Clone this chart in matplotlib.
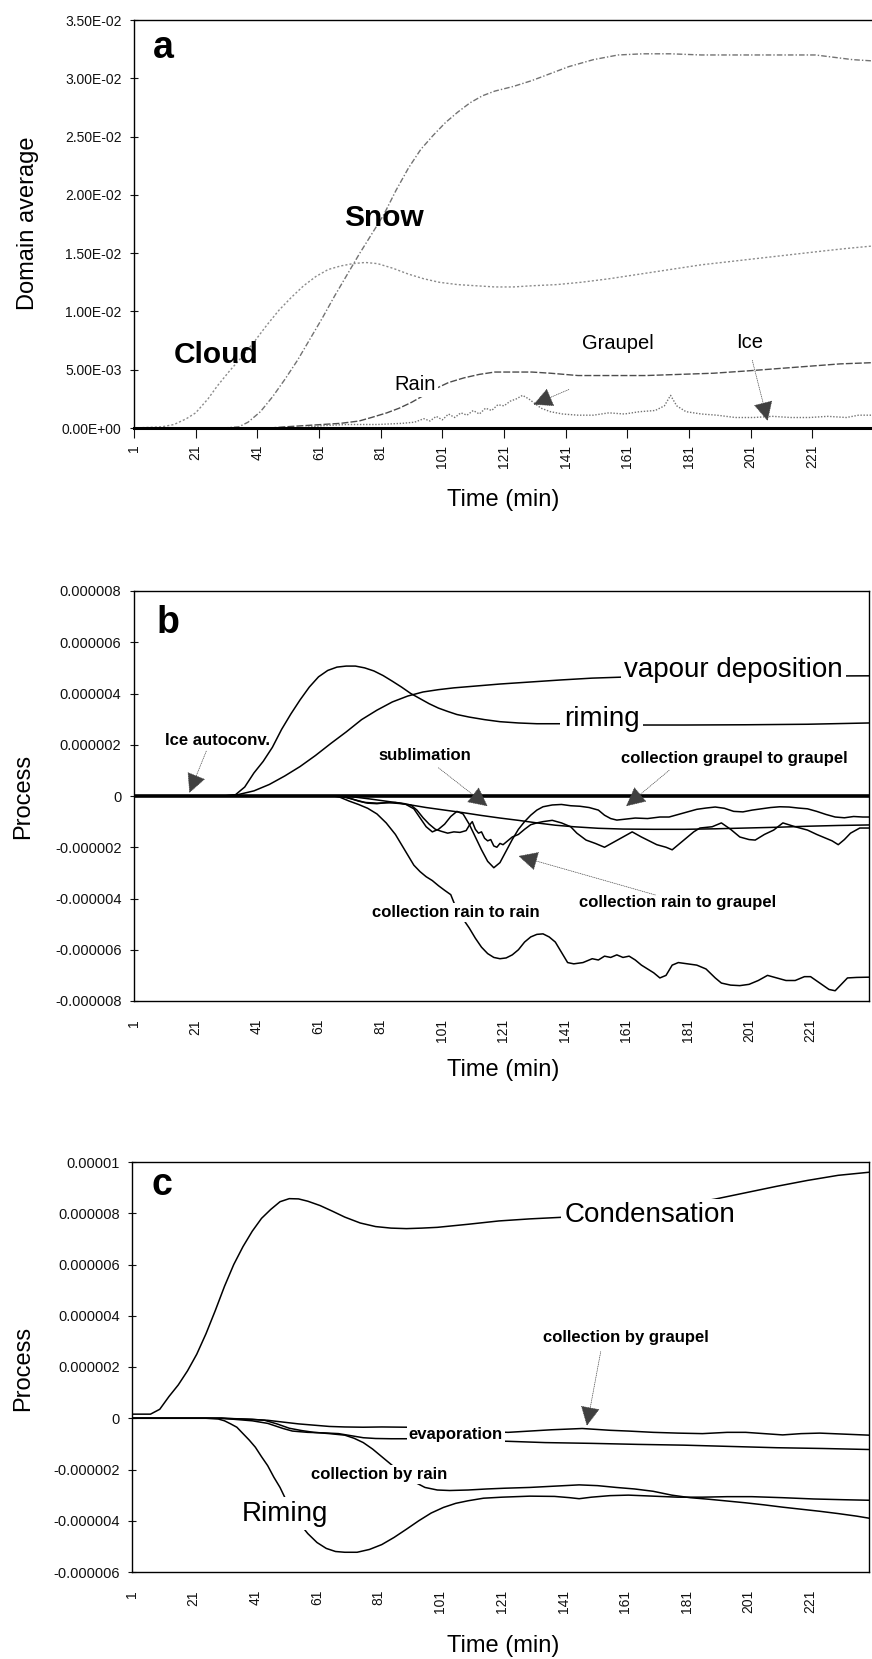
import matplotlib
matplotlib.use("Agg")
import matplotlib.pyplot as plt
import numpy as np

plt.rcParams['font.family'] = ['Liberation Sans', 'DejaVu Sans']

# ---------------- panel a: domain averages ----------------
cloud_t = [1, 10, 14, 18, 21, 25, 28, 32, 36, 40, 44, 48, 52, 56, 60, 64, 68, 72, 76, 80, 85, 90,
           95, 100, 106, 112, 118, 124, 130, 138, 146, 155, 165, 175, 185, 195, 205, 215, 225, 232, 240]
cloud_v = [0, 0.0001, 0.0003, 0.0008, 0.0013, 0.0025, 0.0036, 0.0049, 0.0061, 0.0074, 0.0088, 0.0101,
           0.0112, 0.0122, 0.0130, 0.0136, 0.0139, 0.0141, 0.0142, 0.0141, 0.0137, 0.0132, 0.0128,
           0.0125, 0.0123, 0.0122, 0.0121, 0.0121, 0.0122, 0.0123, 0.0125, 0.0128, 0.0132, 0.0136,
           0.0140, 0.0143, 0.0146, 0.0149, 0.0152, 0.0154, 0.0156]

snow_t = [1, 30, 35, 38, 42, 46, 50, 54, 58, 62, 66, 70, 74, 78, 82, 86, 90, 94, 98, 102, 106, 110,
          114, 118, 124, 130, 136, 142, 150, 158, 166, 175, 185, 195, 205, 215, 222, 228, 234, 240]
snow_v = [0, 0, 0.0001, 0.0005, 0.0014, 0.0027, 0.0042, 0.0058, 0.0076, 0.0094, 0.0113, 0.0131,
          0.0149, 0.0166, 0.0183, 0.0204, 0.0223, 0.0239, 0.0251, 0.0262, 0.0271, 0.0279, 0.0285,
          0.0289, 0.0293, 0.0298, 0.0304, 0.0310, 0.0316, 0.0320, 0.0321, 0.0321, 0.0320, 0.0320,
          0.0320, 0.0320, 0.0320, 0.0318, 0.0316, 0.0315]

rain_t = [1, 45, 50, 56, 62, 68, 74, 78, 83, 87, 91, 95, 99, 103, 108, 113, 118, 124, 130, 136,
          145, 155, 167, 178, 189, 200, 210, 220, 230, 240]
rain_v = [0, 0, 0.0001, 0.0002, 0.0003, 0.0004, 0.0006, 0.0009, 0.0013, 0.0017, 0.0022, 0.0028,
          0.0034, 0.0039, 0.0043, 0.0046, 0.0048, 0.0048, 0.0048, 0.0047, 0.0045, 0.0045, 0.0045,
          0.0046, 0.0047, 0.0049, 0.0051, 0.0053, 0.0055, 0.0056]

graupel_t = [1, 55, 62, 70, 80, 88, 92, 95, 97, 99, 101, 103, 105, 107, 109, 111, 113, 115, 117,
             119, 121, 123, 125, 127, 129, 131, 133, 136, 140, 145, 150, 155, 160, 165, 170, 173,
             175, 177, 180, 185, 190, 196, 202, 208, 214, 220, 226, 232, 236, 240]
graupel_v = [0, 0, 0.0002, 0.0003, 0.0003, 0.0004, 0.0005, 0.0008, 0.0006, 0.0010, 0.0007, 0.0012,
             0.0009, 0.0013, 0.0011, 0.0015, 0.0012, 0.0017, 0.0015, 0.0020, 0.0019, 0.0023, 0.0025,
             0.0028, 0.0025, 0.0021, 0.0017, 0.0014, 0.0012, 0.0011, 0.0011, 0.0013, 0.0012, 0.0014,
             0.0015, 0.0019, 0.0028, 0.0019, 0.0014, 0.0012, 0.0011, 0.0009, 0.0009, 0.0010, 0.0009,
             0.0009, 0.0010, 0.0009, 0.0011, 0.0011]

ice_t = [1, 60, 120, 240]
ice_v = [0, 0, 0, 0]

# ---------------- panel b: ice-phase processes (x 1e-6) ----------------
rimb_t = [1, 30, 34, 37, 40, 43, 46, 49, 52, 55, 58, 61, 64, 67, 70, 73, 76, 79, 82, 85, 88, 91,
          94, 97, 100, 103, 106, 110, 115, 120, 126, 132, 140, 150, 165, 180, 200, 220, 240]
rimb_v = [0, 0, 0.05, 0.35, 0.9, 1.35, 1.9, 2.6, 3.2, 3.75, 4.25, 4.65, 4.9, 5.03, 5.07, 5.07, 5.0,
          4.88, 4.7, 4.48, 4.25, 4.0, 3.8, 3.6, 3.43, 3.3, 3.18, 3.08, 2.98, 2.9, 2.85, 2.82, 2.82,
          2.8, 2.77, 2.77, 2.78, 2.8, 2.85]

vap_t = [1, 30, 34, 40, 45, 50, 55, 60, 65, 70, 75, 80, 85, 90, 95, 100, 105, 110, 120, 130, 140,
         150, 160, 180, 200, 220, 240]
vap_v = [0, 0, 0.03, 0.2, 0.45, 0.78, 1.15, 1.58, 2.05, 2.5, 2.98, 3.35, 3.67, 3.9, 4.06, 4.15,
         4.22, 4.27, 4.37, 4.45, 4.53, 4.6, 4.64, 4.66, 4.67, 4.68, 4.69]

autoconv_t = [1, 240]
autoconv_v = [0, 0]

subl_t = [1, 68, 72, 78, 84, 90, 96, 102, 108, 114, 120, 126, 132, 138, 144, 152, 160, 170, 180,
          190, 200, 210, 220, 230, 240]
subl_v = [0, 0, -0.03, -0.12, -0.22, -0.33, -0.45, -0.55, -0.65, -0.76, -0.86, -0.95, -1.05,
          -1.14, -1.2, -1.26, -1.29, -1.3, -1.3, -1.28, -1.25, -1.22, -1.18, -1.15, -1.13]

gg_t = [1, 68, 71, 74, 77, 80, 83, 86, 89, 92, 94, 96, 98, 100, 102, 104, 106, 108, 110, 112, 114,
        116, 118, 120, 122, 124, 126, 128, 130, 132, 134, 137, 140, 143, 146, 149, 152, 154, 156,
        158, 161, 164, 168, 172, 175, 178, 181, 184, 187, 190, 193, 196, 199, 202, 205, 208, 211,
        214, 217, 220, 223, 226, 229, 232, 235, 238, 240]
gg_v = [0, 0, -0.08, -0.2, -0.28, -0.3, -0.26, -0.25, -0.3, -0.5, -0.85, -1.2, -1.4, -1.3, -1.1,
        -0.8, -0.6, -0.7, -1.1, -1.6, -2.1, -2.55, -2.8, -2.6, -2.15, -1.7, -1.3, -1.0, -0.75,
        -0.55, -0.42, -0.35, -0.33, -0.38, -0.4, -0.45, -0.55, -0.75, -0.88, -0.94, -0.9, -0.86,
        -0.88, -0.82, -0.82, -0.72, -0.62, -0.52, -0.47, -0.43, -0.48, -0.6, -0.62, -0.55, -0.5,
        -0.45, -0.42, -0.43, -0.47, -0.5, -0.6, -0.72, -0.82, -0.85, -0.8, -0.82, -0.82]

rg_t = [1, 68, 72, 76, 80, 84, 88, 91, 93, 95, 97, 99, 101, 103, 105, 107, 109, 110, 111, 112, 113,
        114, 115, 116, 117, 118, 119, 120, 121, 122, 124, 126, 128, 130, 132, 134, 137, 140, 143,
        145, 148, 151, 154, 157, 160, 163, 166, 168, 171, 174, 176, 178, 181, 183, 185, 189, 192,
        195, 198, 201, 203, 206, 209, 212, 216, 220, 223, 225, 228, 230, 232, 234, 237, 240]
rg_v = [0, 0, -0.12, -0.25, -0.28, -0.26, -0.3, -0.35, -0.55, -0.85, -1.1, -1.3, -1.38, -1.45,
        -1.4, -1.42, -1.35, -1.15, -1.0, -1.3, -1.45, -1.4, -1.65, -1.75, -1.7, -1.95, -2.0, -1.85,
        -1.9, -1.8, -1.6, -1.5, -1.3, -1.12, -1.05, -1.0, -0.95, -1.05, -1.2, -1.45, -1.72, -1.85,
        -2.0, -1.8, -1.6, -1.4, -1.6, -1.72, -1.9, -2.0, -2.1, -1.9, -1.6, -1.4, -1.25, -1.2,
        -1.05, -1.3, -1.6, -1.7, -1.72, -1.5, -1.33, -1.05, -1.2, -1.33, -1.5, -1.6, -1.75, -1.9,
        -1.7, -1.45, -1.25, -1.25]

rr_t = [1, 66, 68, 71, 74, 77, 80, 83, 86, 88, 90, 92, 94, 96, 98, 100, 102, 104, 106, 108, 110,
        112, 114, 116, 118, 120, 122, 124, 126, 128, 130, 132, 134, 136, 138, 140, 142, 144, 147,
        150, 152, 154, 156, 158, 160, 162, 164, 166, 168, 170, 172, 174, 176, 178, 181, 184, 187,
        190, 192, 195, 198, 201, 204, 207, 210, 213, 216, 219, 221, 224, 227, 229, 231, 233, 236, 240]
rr_v = [0, 0, -0.05, -0.2, -0.33, -0.48, -0.7, -1.05, -1.5, -1.9, -2.3, -2.7, -2.95, -3.15, -3.3,
        -3.5, -3.68, -3.85, -4.45, -4.8, -5.15, -5.55, -5.9, -6.15, -6.3, -6.35, -6.32, -6.2, -6.0,
        -5.7, -5.5, -5.4, -5.38, -5.5, -5.7, -6.1, -6.5, -6.55, -6.5, -6.35, -6.4, -6.25, -6.3,
        -6.2, -6.3, -6.25, -6.4, -6.6, -6.75, -6.9, -7.1, -7.0, -6.6, -6.5, -6.55, -6.6, -6.75,
        -7.1, -7.3, -7.38, -7.4, -7.35, -7.2, -7.0, -7.1, -7.2, -7.2, -7.05, -7.05, -7.3, -7.55,
        -7.6, -7.35, -7.1, -7.08, -7.07]

# ---------------- panel c: liquid-phase processes (x 1e-6) ----------------
cond_t = [1, 7, 10, 13, 16, 19, 22, 25, 28, 31, 34, 37, 40, 43, 46, 49, 52, 55, 58, 62, 66, 70, 75,
          80, 85, 90, 95, 100, 110, 120, 130, 140, 150, 160, 170, 180, 190, 200, 210, 220, 230, 240]
cond_v = [0.16, 0.16, 0.35, 0.85, 1.3, 1.85, 2.5, 3.3, 4.2, 5.15, 6.0, 6.7, 7.3, 7.8, 8.15, 8.45,
          8.57, 8.56, 8.47, 8.3, 8.08, 7.85, 7.62, 7.48, 7.42, 7.4, 7.42, 7.45, 7.57, 7.7, 7.78,
          7.84, 7.9, 8.0, 8.15, 8.35, 8.55, 8.8, 9.05, 9.28, 9.48, 9.6]

evap1_t = [1, 30, 40, 45, 50, 55, 60, 65, 70, 76, 82, 90, 100, 110, 123, 130, 137, 147, 156, 162,
           170, 178, 186, 194, 200, 206, 212, 218, 224, 232, 240]
evap1_v = [0, 0, -0.05, -0.08, -0.15, -0.22, -0.27, -0.32, -0.34, -0.35, -0.34, -0.35, -0.42,
           -0.5, -0.55, -0.5, -0.45, -0.4, -0.47, -0.5, -0.55, -0.58, -0.6, -0.55, -0.55, -0.6,
           -0.65, -0.6, -0.58, -0.62, -0.66]

evap2_t = [1, 30, 40, 45, 50, 53, 58, 63, 68, 72, 76, 80, 85, 90, 105, 123, 135, 150, 165, 180,
           195, 210, 225, 240]
evap2_v = [0, 0, -0.1, -0.2, -0.4, -0.5, -0.55, -0.57, -0.6, -0.68, -0.76, -0.79, -0.8, -0.8,
           -0.85, -0.9, -0.95, -0.98, -1.02, -1.05, -1.1, -1.15, -1.18, -1.22]

crain_t = [1, 30, 40, 44, 48, 52, 56, 60, 65, 70, 73, 76, 79, 82, 84, 88, 92, 96, 100, 104, 110,
           116, 122, 130, 138, 146, 152, 158, 164, 170, 176, 182, 188, 194, 200, 206, 212, 218,
           224, 230, 236, 240]
crain_v = [0, 0, -0.04, -0.08, -0.22, -0.39, -0.48, -0.55, -0.6, -0.66, -0.78, -0.95, -1.2, -1.5,
           -1.7, -2.1, -2.45, -2.7, -2.8, -2.82, -2.8, -2.76, -2.73, -2.7, -2.65, -2.6, -2.63,
           -2.7, -2.76, -2.85, -3.0, -3.1, -3.16, -3.23, -3.3, -3.38, -3.47, -3.55, -3.63, -3.72,
           -3.82, -3.9]

rimc_t = [1, 25, 29, 31, 33, 35, 37, 39, 41, 43, 45, 47, 49, 51, 53, 55, 58, 61, 64, 67, 70, 74,
          78, 82, 86, 90, 94, 98, 102, 106, 110, 115, 121, 130, 138, 143, 146, 150, 156, 162, 170,
          178, 186, 194, 202, 212, 222, 232, 240]
rimc_v = [0, 0, -0.03, -0.1, -0.22, -0.35, -0.6, -0.85, -1.13, -1.5, -1.85, -2.3, -2.7, -3.2,
          -3.65, -4.05, -4.5, -4.85, -5.08, -5.2, -5.23, -5.23, -5.12, -4.93, -4.65, -4.33, -4.0,
          -3.7, -3.48, -3.32, -3.22, -3.12, -3.08, -3.04, -3.05, -3.1, -3.14, -3.08, -3.02, -3.0,
          -3.04, -3.08, -3.08, -3.06, -3.06, -3.1, -3.15, -3.18, -3.2]

xticks = list(range(1, 222, 20))
a_yticks = [0, 0.005, 0.01, 0.015, 0.02, 0.025, 0.03, 0.035]
a_ylabels = ['0.00E+00', '5.00E-03', '1.00E-02', '1.50E-02', '2.00E-02', '2.50E-02', '3.00E-02', '3.50E-02']
b_yticks = [-8, -6, -4, -2, 0, 2, 4, 6, 8]
b_ylabels = ['-0.000008', '-0.000006', '-0.000004', '-0.000002', '0',
             '0.000002', '0.000004', '0.000006', '0.000008']
c_yticks = [-6, -4, -2, 0, 2, 4, 6, 8, 10]
c_ylabels = ['-0.000006', '-0.000004', '-0.000002', '0',
             '0.000002', '0.000004', '0.000006', '0.000008', '0.00001']

W, H = 872, 1659
fig = plt.figure(figsize=(W / 100, H / 100), dpi=100)
ax_a = fig.add_axes([134 / W, 1 - 428 / H, (871 - 134) / W, 408 / H])
ax_b = fig.add_axes([134 / W, 1 - 1001 / H, (869 - 134) / W, 410 / H])
ax_c = fig.add_axes([132 / W, 1 - 1572 / H, (869 - 132) / W, 410 / H])

box = dict(boxstyle='square,pad=0.12', fc='white', ec='none')
u = 1e-6


def style(ax, yt, yl, ylim, xtick_len, xpad):
    ax.set_xlim(1, 240)
    ax.set_ylim(*ylim)
    ax.set_xticks(xticks)
    ax.set_xticklabels([str(t) for t in xticks])
    ax.set_yticks(yt)
    ax.set_yticklabels(yl)
    ax.tick_params(axis='y', direction='inout', length=6, width=0.8, pad=6, labelsize=10.5, colors='#111111')
    ax.tick_params(axis='x', direction='out', length=xtick_len, width=0.8, pad=xpad, labelsize=10,
                   labelrotation=90, colors='#111111')
    for s in ax.spines.values():
        s.set_linewidth(1.0)


def arrow(ax, xy, xytext):
    ax.annotate('', xy=xy, xytext=xytext, zorder=6,
                arrowprops=dict(arrowstyle='-|>,head_length=0.9,head_width=0.45', mutation_scale=14,
                                color='0.25', lw=0.5, ls=':', shrinkA=0, shrinkB=0))


# ---- panel a
ax = ax_a
ax.plot(cloud_t, cloud_v, color='0.55', lw=1.0, ls=(0, (1.5, 1.5)))
ax.plot(snow_t, snow_v, color='0.45', lw=1.0, ls=(0, (4, 1.5, 1, 1.5)))
ax.plot(rain_t, rain_v, color='0.3', lw=1.0, ls=(0, (5, 1.5)))
ax.plot(graupel_t, graupel_v, color='0.45', lw=1.0, ls=(0, (1, 1.2)))
ax.plot(ice_t, ice_v, color='black', lw=2.2, clip_on=False)
style(ax, a_yticks, a_ylabels, (0, 0.035), 7, 5)
ax.tick_params(axis='y', labelsize=10)
ax.spines['right'].set_visible(False)
ax.text(0.026, 0.907, 'a', transform=ax.transAxes, fontsize=27, fontweight='bold', va='baseline')
ax.text(82, 0.01735, 'Snow', fontsize=21.5, fontweight='bold', ha='center', va='baseline', zorder=5)
ax.text(27.5, 0.00556, 'Cloud', fontsize=21.5, fontweight='bold', ha='center', va='baseline', zorder=5)
ax.text(92, 0.00325, 'Rain', fontsize=14.5, ha='center', va='baseline', bbox=box, zorder=5)
ax.text(158, 0.00675, 'Graupel', fontsize=14.5, ha='center', va='baseline', zorder=5)
ax.text(200.5, 0.00684, 'Ice', fontsize=14.5, ha='center', va='baseline', zorder=5)
arrow(ax, (130.5, 0.0020), (142, 0.0033))
arrow(ax, (206.5, 0.0006), (201.5, 0.0058))

# ---- panel b
ax = ax_b
for t, v in [(rimb_t, rimb_v), (vap_t, vap_v), (subl_t, subl_v), (gg_t, gg_v), (rg_t, rg_v), (rr_t, rr_v)]:
    ax.plot(t, np.array(v) * u, color='black', lw=1.1)
ax.plot(autoconv_t, np.array(autoconv_v) * u, color='black', lw=2.6)
style(ax, np.array(b_yticks) * u, b_ylabels, (-8 * u, 8 * u), 0, 13)
ax.text(0.030, 0.898, 'b', transform=ax.transAxes, fontsize=27, fontweight='bold', va='baseline')
ax.text(196, 4.64 * u, 'vapour deposition', fontsize=20, ha='center', va='baseline', bbox=box, zorder=5)
ax.text(153, 2.72 * u, 'riming', fontsize=20, ha='center', va='baseline', bbox=box, zorder=5)
ax.text(28.3, 1.99 * u, 'Ice autoconv.', fontsize=12, fontweight='bold', ha='center', va='baseline', zorder=5)
ax.text(95.6, 1.40 * u, 'sublimation', fontsize=12, fontweight='bold', ha='center', va='baseline', zorder=5)
ax.text(196.3, 1.29 * u, 'collection graupel to graupel', fontsize=12, fontweight='bold',
        ha='center', va='baseline', zorder=5)
ax.text(105.7, -4.72 * u, 'collection rain to rain', fontsize=12, fontweight='bold',
        ha='center', va='baseline', bbox=box, zorder=5)
ax.text(177.7, -4.33 * u, 'collection rain to graupel', fontsize=12, fontweight='bold',
        ha='center', va='baseline', zorder=5)
arrow(ax, (19, 0.12 * u), (24.5, 1.75 * u))
arrow(ax, (116, -0.4 * u), (100, 1.1 * u))
arrow(ax, (161, -0.4 * u), (175, 1.0 * u))
arrow(ax, (126, -2.34 * u), (170.5, -3.86 * u))

# ---- panel c
ax = ax_c
for t, v in [(cond_t, cond_v), (evap1_t, evap1_v), (evap2_t, evap2_v), (crain_t, crain_v), (rimc_t, rimc_v)]:
    ax.plot(t, np.array(v) * u, color='black', lw=1.1)
style(ax, np.array(c_yticks) * u, c_ylabels, (-6 * u, 10 * u), 0, 13)
ax.text(0.026, 0.9195, 'c', transform=ax.transAxes, fontsize=27, fontweight='bold', va='baseline')
ax.text(169, 7.65 * u, 'Condensation', fontsize=20, ha='center', va='baseline', bbox=box, zorder=5)
ax.text(161, 2.97 * u, 'collection by graupel', fontsize=12, fontweight='bold', ha='center', va='baseline', zorder=5)
ax.text(106, -0.82 * u, 'evaporation', fontsize=12, fontweight='bold', ha='center', va='baseline', bbox=box, zorder=5)
ax.text(81, -2.38 * u, 'collection by rain', fontsize=12, fontweight='bold', ha='center', va='baseline',
        bbox=box, zorder=5)
ax.text(50.5, -4.0 * u, 'Riming', fontsize=20, ha='center', va='baseline', bbox=box, zorder=5)
arrow(ax, (148.5, -0.3 * u), (153, 2.6 * u))

# axis titles
for yc in (500, 1070, 1646):
    fig.text(503 / W, 1 - yc / H, 'Time (min)', ha='center', va='center', fontsize=17)
fig.text(28 / W, 1 - 223 / H, 'Domain average', rotation=90, ha='center', va='center', fontsize=17)
fig.text(23 / W, 1 - 796 / H, 'Process', rotation=90, ha='center', va='center', fontsize=17)
fig.text(23 / W, 1 - 1368 / H, 'Process', rotation=90, ha='center', va='center', fontsize=17)

fig.savefig('out.png', dpi=100)
